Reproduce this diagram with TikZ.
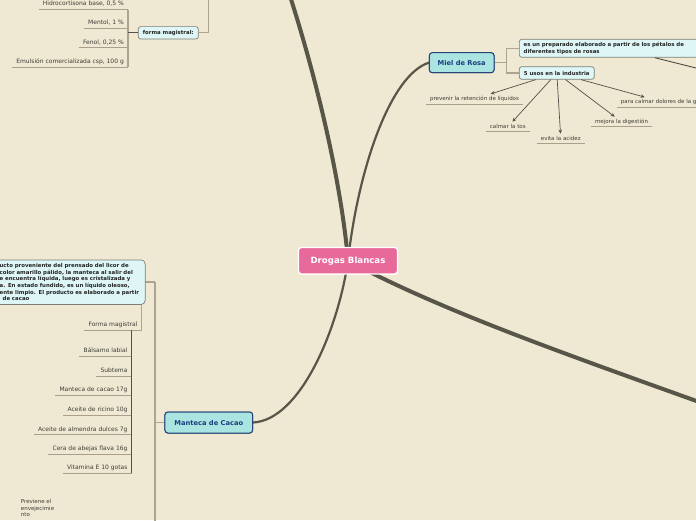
\documentclass[tikz,border=0pt]{standalone}
\usepackage{fontspec}
\setmainfont{DejaVu Sans}
\usetikzlibrary{arrows.meta,calc}
\definecolor{bgc}{RGB}{239,232,210}
\definecolor{trunkc}{RGB}{88,85,73}
\definecolor{pinkc}{RGB}{232,106,154}
\definecolor{tealc}{RGB}{170,229,226}
\definecolor{navyc}{RGB}{38,68,120}
\definecolor{navytext}{RGB}{28,62,128}
\definecolor{subfill}{RGB}{222,247,246}
\definecolor{subborder}{RGB}{125,125,115}
\definecolor{boxtext}{RGB}{35,35,35}
\definecolor{brkc}{RGB}{172,164,142}
\definecolor{ulc}{RGB}{168,160,140}
\definecolor{leaftext}{RGB}{62,62,56}
\definecolor{darkline}{RGB}{82,80,72}
\tikzset{
  trunk/.style={draw=trunkc, line width=4pt, line cap=round},
  branchline/.style={draw=trunkc, line width=2.2pt, line cap=round},
  central/.style={draw=white, fill=pinkc, line width=1.3pt, rounded corners=3pt,
    text=white, font=\fontsize{8.6}{10}\selectfont\bfseries, inner sep=0pt,
    minimum width=99pt, minimum height=26.5pt},
  mainnode/.style={draw=navyc, fill=tealc, line width=1pt, rounded corners=3pt,
    text=navytext, font=\fontsize{6.7}{8}\selectfont\bfseries, inner sep=0pt,
    minimum height=20pt},
  subbox/.style={draw=subborder, fill=subfill, line width=0.7pt, rounded corners=2.5pt,
    text=boxtext, font=\fontsize{5.4}{6.6}\selectfont\bfseries, inner sep=0pt},
  bracket/.style={draw=brkc, line width=1.1pt},
  darkbr/.style={draw=darkline, line width=1pt},
  uline/.style={draw=ulc, line width=0.9pt},
  leaf/.style={font=\fontsize{5.5}{6}\selectfont, text=leaftext, inner xsep=4pt,
    inner ysep=2.2pt, text height=4.2pt, text depth=1.2pt,
    append after command={(\tikzlastnode.south west) edge[uline] (\tikzlastnode.south east)}},
  leafL/.style={leaf, anchor=south east, font=\fontsize{6}{6.5}\selectfont},
  arr/.style={draw=darkline, line width=0.7pt, -{Stealth[length=4pt,width=3.6pt]}},
}
\begin{document}
\begin{tikzpicture}[x=1pt,y=-1pt]
\useasboundingbox (0,0) rectangle (696,520);
\fill[bgc] (0,0) rectangle (696,520);
\begin{scope}
\clip (0,0) rectangle (696,520);

% ---------- main nodes (positions) ----------
\node[central] (db) at (348,260.7) {Drogas Blancas};
\node[mainnode, minimum width=64.7pt] (miel) at (461.7,62.7) {Miel de Rosa};
\node[mainnode, minimum width=87.7pt, minimum height=21pt] (manteca) at (208.8,422.5) {Manteca de Cacao};

% ---------- trunks and branches ----------
\coordinate (ttop) at (290,-4);
\coordinate (tright) at (702,403);
\path[trunk] (ttop) .. controls (320,90) and (342,190) .. (db.center);
\path[trunk] (db.center) .. controls (440,310) and (560,352) .. (tright);
\path[branchline] (miel.west) .. controls (390,75) and (358,170) .. (db.center);
\path[branchline] (manteca.east) .. controls (300,420) and (338,330) .. (db.center);

% main nodes drawn again above the connectors
\node[central] at (db.center) {Drogas Blancas};
\node[mainnode, minimum width=64.7pt] at (miel.center) {Miel de Rosa};
\node[mainnode, minimum width=87.7pt, minimum height=21pt] at (manteca.center) {Manteca de Cacao};

% ---------- Miel de Rosa ----------
\node[subbox, minimum width=180.7pt, minimum height=18pt, text width=172pt, align=left]
  (desc) at (609.7,48.3) {es un preparado elaborado a partir de los pétalos de\\diferentes tipos de rosas};
\node[subbox, minimum width=75pt, minimum height=12.6pt] (usos) at (556.8,73) {5 usos en la industria};
\draw[bracket] (miel.east) -- ++(12,0) coordinate (mbk) |- (desc.west);
\draw[bracket] (mbk) |- (usos.west);
\coordinate (descout) at (700,69);
\draw[darkline, line width=0.9pt] ($(desc.south west)+(135.7,0)$) -- (descout);

\node[leaf] (prev) at (474.5,99) {prevenir la retención de líquidos};
\node[leaf] (tos) at (507.8,126.8) {calmar la tos};
\node[leaf] (acid) at (560.8,138.8) {evita la acidez};
\node[leaf] (dig) at (621.5,121.8) {mejora la digestión};
\node[leaf, anchor=south west] (gar) at (616.7,107.3) {para calmar dolores de la g};
\coordinate (gart) at ($(gar.north west)+(28,0)$);
\draw[arr] (usos) -- (prev);
\draw[arr] (usos) -- (tos);
\draw[arr] (usos) -- (acid);
\draw[arr] (usos) -- (dig);
\draw[arr] (usos) -- (gart);

% ---------- top-left forma magistral ----------
\node[subbox, minimum width=60pt, minimum height=12.4pt] (fmag) at (168.3,32.8) {forma magistral:};
\node[leafL] (hidro) at (128,9.5) {Hidrocortisona base, 0,5 \%\hspace{10pt}};
\node[leafL] (mentol) at (128,28.3) {Mentol, 1 \%\hspace{10pt}};
\node[leafL] (fenol) at (128,47.7) {Fenol, 0,25 \%\hspace{10pt}};
\node[leafL] (emul) at (128,67.3) {Emulsión comercializada csp, 100 g\hspace{10pt}};
\draw[bracket] (hidro.south east) -- (emul.south east);
\draw[darkbr] (fmag.west) -- (fmag.west -| hidro.south east);
\coordinate (fmtop) at (208.5,-3);
\draw[bracket] (fmag.east) -| (fmtop);

% ---------- Manteca de Cacao ----------
\coordinate (mbot) at (155,530);
\node[leafL] (fm) at (141.7,330) {Forma magistral\hspace{6pt}};
\draw[bracket] (fm.south east) -- ++(0,-48) coordinate (fmup) -- (fmup -| mbot);
\node[subbox, anchor=east, minimum height=44.5pt, text width=141pt, align=left,
  inner xsep=4.5pt, rounded corners=4pt] (cdesc) at (145.5,282.2)
  {ucto proveniente del prensado del licor de\\
   color amarillo pálido, la manteca al salir del\\
   e encuentra líquida, luego es cristalizada y\\
   a. En estado fundido, es un líquido oleoso,\\
   ente limpio. El producto es elaborado a partir\\
   \hspace{3pt}de cacao};
\draw[bracket] (manteca.west) -- (manteca.west -| mbot) coordinate (mbr);
\draw[bracket] (mbr) |- (cdesc.east);
\draw[bracket] (mbr) -- (mbot);

\node[leafL] (bals) at (131.7,356.3) {Bálsamo labial\hspace{6pt}};
\node[leafL] (subt) at (131.7,376) {Subtema\hspace{6pt}};
\node[leafL] (mant) at (131.7,395.3) {Manteca de cacao 17g\hspace{6pt}};
\node[leafL] (ric) at (131.7,415.3) {Aceite de ricino 10g\hspace{6pt}};
\node[leafL] (alm) at (131.7,434.7) {Aceite de almendra dulces 7g\hspace{6pt}};
\node[leafL] (cera) at (131.7,454) {Cera de abejas flava 16g\hspace{6pt}};
\node[leafL] (vit) at (131.7,473.3) {Vitamina E 10 gotas\hspace{6pt}};
\draw[darkbr] (bals.south east |- fm.south) -- (vit.south east);

\node[font=\fontsize{5.5}{6.4}\selectfont, text=leaftext, align=left, anchor=north west,
  inner xsep=4pt, inner ysep=2pt] (prev2) at (16.7,497.5) {Previene el\\envejecimie\\nto};
\end{scope}
\end{tikzpicture}
\end{document}
